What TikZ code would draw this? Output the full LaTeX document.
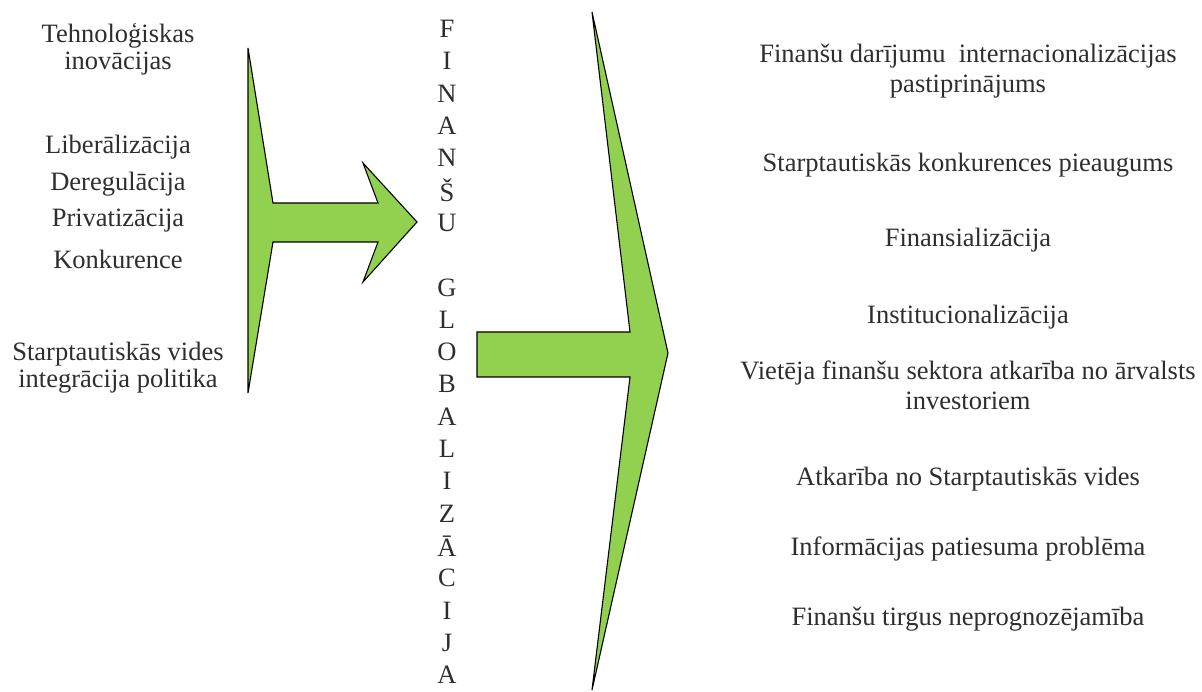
\documentclass[tikz,border=0pt]{standalone}
\usepackage{fontspec}
\setmainfont{Liberation Serif}
\definecolor{arrowgreen}{RGB}{146,208,80}
\tikzset{
  blockarrow/.style={fill=arrowgreen, draw=black, line width=1.1pt, line join=miter},
  lbl/.style={font=\fontsize{26.5}{31}\selectfont, text=black!82, inner sep=0pt, align=center},
  letter/.style={font=\fontsize{26.5}{31}\selectfont, text=black!82, inner sep=0pt}
}
\begin{document}
\begin{tikzpicture}[x=1pt,y=-1pt]
\useasboundingbox (0,0) rectangle (1202,692);

% left-hand drivers
\node[lbl] (tech) at (118,49) {Tehnoloģiskas\\[-4pt]inovācijas};
\node[lbl] (lib)  at (118,147) {Liberālizācija};
\node[lbl] (dereg) at (118,184) {Deregulācija};
\node[lbl] (priv) at (118,221) {Privatizācija};
\node[lbl] (konk) at (118,259) {Konkurence};
\node[lbl] (vide) at (118,368) {Starptautiskās vides\\[-4pt]integrācija politika};

% first block arrow: bracket with a short notched arrow
\draw[blockarrow] (248,48) -- (273,203) -- (378,203) -- (363,163) -- (417,222)
  -- (363,282) -- (378,242) -- (273,242) -- (248,393) -- cycle;

% vertical title
\foreach \ch [count=\i from 0] in {F,I,N,A,N,Š,U,{},G,L,O,B,A,L,I,Z,Ā,C,I,J,A}{
  \node[letter] (t\i) at (447,{29+\i*32.3}) {\ch};
}

% second block arrow: wide notched head with a shaft
\draw[blockarrow] (592,12) -- (668,353) -- (592,690) -- (630,377) -- (477,377)
  -- (477,332) -- (630,332) -- cycle;

% right-hand consequences
\node[lbl] (r1) at (968,71) {Finanšu darījumu\ \ internacionalizācijas\\[-1pt]pastiprinājums};
\node[lbl] (r2) at (968,165) {Starptautiskās konkurences pieaugums};
\node[lbl] (r3) at (968,240) {Finansializācija};
\node[lbl] (r4) at (968,317) {Institucionalizācija};
\node[lbl] (r5) at (968,385) {Vietēja finanšu sektora atkarība no ārvalsts\\[-1pt]investoriem};
\node[lbl] (r6) at (968,479) {Atkarība no Starptautiskās vides};
\node[lbl] (r7) at (968,549) {Informācijas patiesuma problēma};
\node[lbl] (r8) at (968,619) {Finanšu tirgus neprognozējamība};
\end{tikzpicture}
\end{document}
